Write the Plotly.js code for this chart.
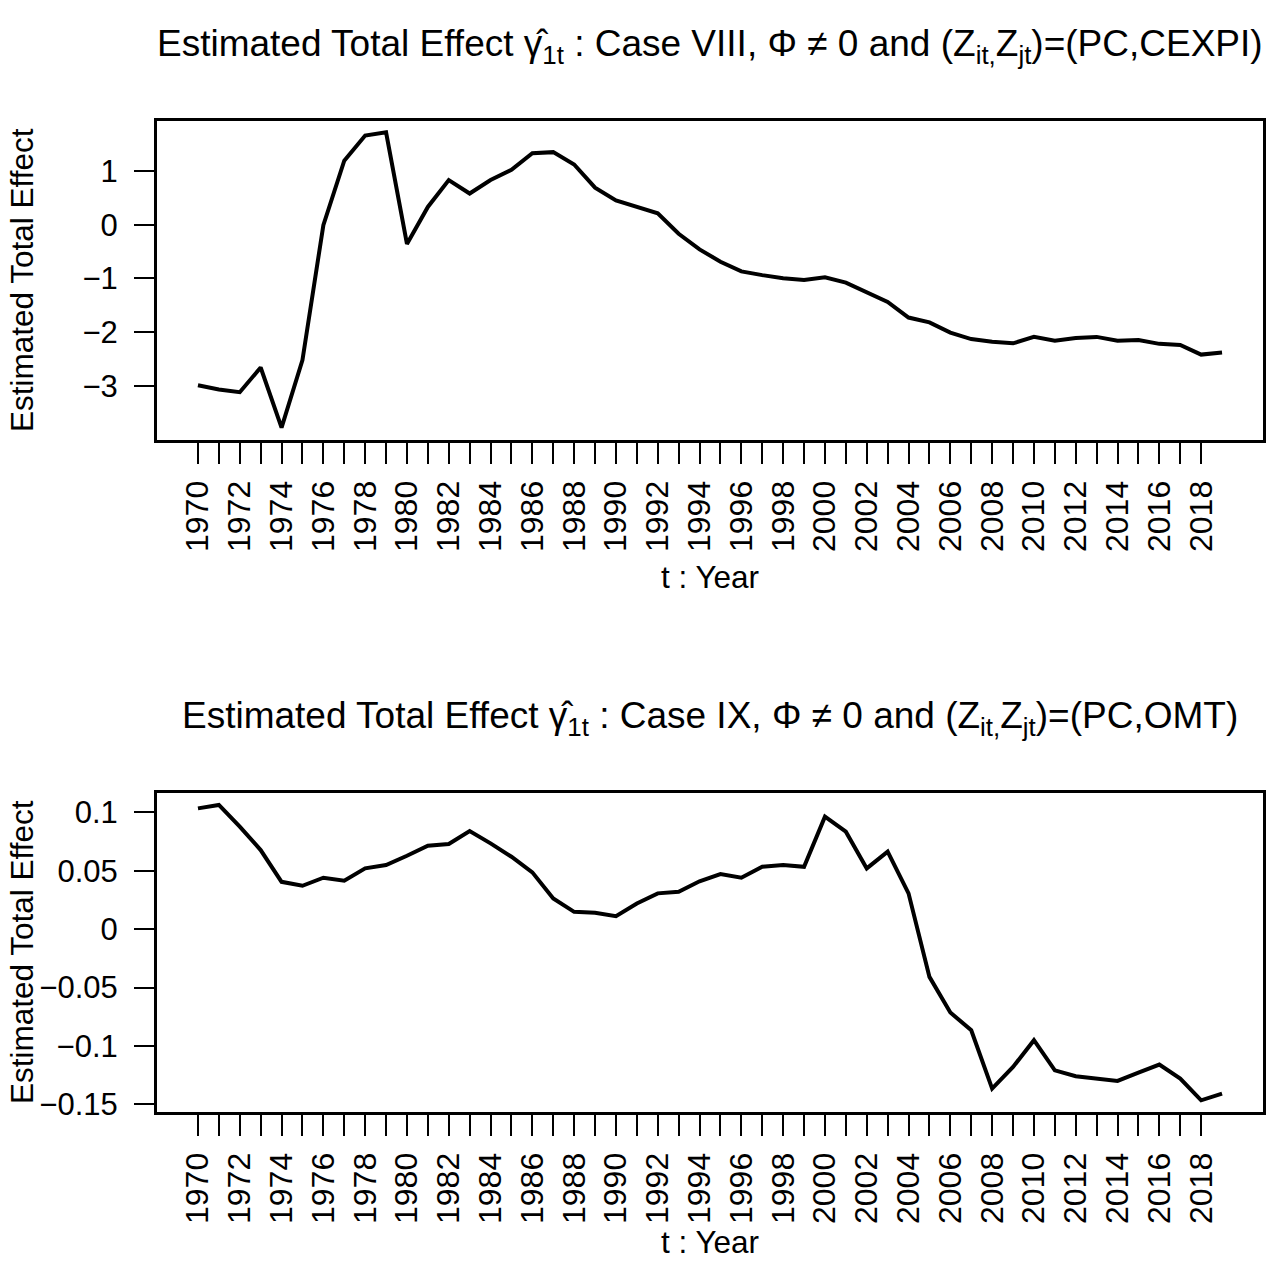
<!DOCTYPE html>
<html>
<head>
<meta charset="utf-8">
<script src="https://cdn.plot.ly/plotly-3.0.1.min.js"></script>
<style>html,body{margin:0;padding:0;background:#fff;}#chart{width:1266px;height:1262px;}</style>
</head>
<body>
<div id="chart"></div>
<script>
// ---- data ----
const years = [1970,1971,1972,1973,1974,1975,1976,1977,1978,1979,
               1980,1981,1982,1983,1984,1985,1986,1987,1988,1989,
               1990,1991,1992,1993,1994,1995,1996,1997,1998,1999,
               2000,2001,2002,2003,2004,2005,2006,2007,2008,2009,
               2010,2011,2012,2013,2014,2015,2016,2017,2018,2019];

const effectCaseVIII = [-2.99,-3.07,-3.12,-2.66,-3.78,-2.52,-0.01,1.19,1.66,1.72,
                        -0.36,0.33,0.83,0.58,0.83,1.02,1.33,1.35,1.12,0.69,
                        0.45,0.33,0.21,-0.17,-0.46,-0.69,-0.87,-0.94,-1.00,-1.03,
                        -0.98,-1.08,-1.27,-1.44,-1.73,-1.82,-2.01,-2.13,-2.18,-2.21,
                        -2.09,-2.16,-2.11,-2.09,-2.16,-2.15,-2.22,-2.24,-2.42,-2.38];

const effectCaseIX = [0.1034,0.1063,0.0877,0.0677,0.0405,0.0371,0.0440,0.0414,0.0520,0.0549,
                      0.0628,0.0714,0.0729,0.0840,0.0734,0.0620,0.0486,0.0263,0.0148,0.0140,
                      0.0111,0.0220,0.0306,0.0320,0.0410,0.0471,0.0440,0.0534,0.0549,0.0534,
                      0.0963,0.0834,0.0520,0.0663,0.0306,-0.0409,-0.0714,-0.0866,-0.1366,-0.1180,
                      -0.0951,-0.1209,-0.1260,-0.1280,-0.1300,-0.1229,-0.1160,-0.1280,-0.1466,-0.1409];

// labelled (every second year) and unlabelled yearly ticks
const xTickVals = [1970,1972,1974,1976,1978,1980,1982,1984,1986,1988,1990,1992,
                   1994,1996,1998,2000,2002,2004,2006,2008,2010,2012,2014,2016,2018];
const xTickText = ['1970','1972','1974','1976','1978','1980','1982','1984','1986','1988','1990','1992',
                   '1994','1996','1998','2000','2002','2004','2006','2008','2010','2012','2014','2016','2018'];
const xMinorTickVals = [1971,1973,1975,1977,1979,1981,1983,1985,1987,1989,1991,1993,
                        1995,1997,1999,2001,2003,2005,2007,2009,2011,2013,2015,2017];

const yTickValsTop = [-3,-2,-1,0,1];
const yTickTextTop = ['\u22123','\u22122','\u22121','0','1'];
const yTickValsBottom = [-0.15,-0.1,-0.05,0,0.05,0.1];
const yTickTextBottom = ['\u22120.15','\u22120.1','\u22120.05','0','0.05','0.1'];

const titleTop = 'Estimated Total Effect \u03B3\u0302<sub>1t</sub> : Case VIII, \u03A6 \u2260 0 and (Z<sub>it,</sub>Z<sub>jt</sub>)=(PC,CEXPI)';
const titleBottom = 'Estimated Total Effect \u03B3\u0302<sub>1t</sub> : Case IX, \u03A6 \u2260 0 and (Z<sub>it,</sub>Z<sub>jt</sub>)=(PC,OMT)';
const yTitle = 'Estimated Total Effect';
const xTitle = 't : Year';

// ---- chart ----
const FONT = 'Liberation Sans, Arial, sans-serif';
const xTickFont = {family: FONT, size: 32, color: '#000'};
const yTickFont = {family: FONT, size: 31, color: '#000'};

const traces = [
  {x: years, y: effectCaseVIII, type: 'scatter', mode: 'lines', xaxis: 'x', yaxis: 'y',
   line: {color: '#000', width: 4}, hoverinfo: 'skip'},
  {x: years, y: effectCaseIX, type: 'scatter', mode: 'lines', xaxis: 'x2', yaxis: 'y2',
   line: {color: '#000', width: 4}, hoverinfo: 'skip'}
];

function xAxis(anchor) {
  return {
    anchor: anchor, domain: [0, 1], range: [1968.04, 2020.96],
    tickmode: 'array', tickvals: xTickVals, ticktext: xTickText, tickangle: -90,
    ticks: 'outside', ticklen: 21, tickwidth: 2, tickcolor: '#000',
    minor: {tickmode: 'array', tickvals: xMinorTickVals, ticks: 'outside', ticklen: 21, tickwidth: 2, tickcolor: '#000', showgrid: false},
    showline: true, mirror: true, linewidth: 3, linecolor: '#000',
    showgrid: false, zeroline: false, tickfont: xTickFont, ticklabelstandoff: 4
  };
}
function yAxis(anchor, domain, range, vals, text) {
  return {
    anchor: anchor, domain: domain, range: range,
    tickmode: 'array', tickvals: vals, ticktext: text,
    ticks: 'outside', ticklen: 20, tickwidth: 2, tickcolor: '#000',
    showline: true, mirror: true, linewidth: 3, linecolor: '#000',
    showgrid: false, zeroline: false, tickfont: yTickFont, ticklabelstandoff: 10
  };
}

// plot area: x 157..1263, y 121..1112
const L = 157, R = 1263, T = 121, B = 1112;
const px = v => (v - L) / (R - L);
const py = v => (B - v) / (B - T);

const annFont = {family: FONT, size: 31.5, color: '#000'};
const titleFont = {family: FONT, size: 37, color: '#000'};

const layout = {
  width: 1266, height: 1262,
  margin: {l: L, r: 1266 - R, t: T, b: 1262 - B, pad: 0},
  paper_bgcolor: '#fff', plot_bgcolor: '#fff',
  showlegend: false,
  xaxis: xAxis('y'),
  yaxis: yAxis('x', [py(440), 1], [-4.01, 1.93], yTickValsTop, yTickTextTop),
  xaxis2: xAxis('y2'),
  yaxis2: yAxis('x2', [0, py(793.3)], [-0.1566, 0.1163], yTickValsBottom, yTickTextBottom),
  annotations: [
    {text: titleTop, xref: 'paper', yref: 'paper', x: px(710), y: py(46), xanchor: 'center', yanchor: 'middle', showarrow: false, font: titleFont},
    {text: titleBottom, xref: 'paper', yref: 'paper', x: px(710), y: py(718), xanchor: 'center', yanchor: 'middle', showarrow: false, font: titleFont},
    {text: yTitle, xref: 'paper', yref: 'paper', x: px(22), y: py(280), xanchor: 'center', yanchor: 'middle', textangle: -90, showarrow: false, font: annFont},
    {text: yTitle, xref: 'paper', yref: 'paper', x: px(22), y: py(952), xanchor: 'center', yanchor: 'middle', textangle: -90, showarrow: false, font: annFont},
    {text: xTitle, xref: 'paper', yref: 'paper', x: px(710), y: py(577), xanchor: 'center', yanchor: 'middle', showarrow: false, font: annFont},
    {text: xTitle, xref: 'paper', yref: 'paper', x: px(710), y: py(1262), xanchor: 'center', yanchor: 'bottom', showarrow: false, font: annFont}
  ]
};

Plotly.newPlot('chart', traces, layout, {displayModeBar: false, staticPlot: true});
</script>
</body>
</html>
